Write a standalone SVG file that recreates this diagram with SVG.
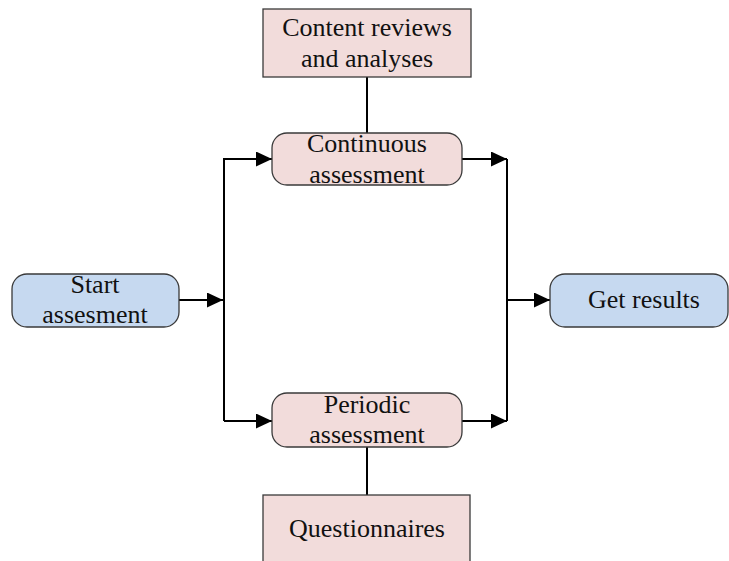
<svg xmlns="http://www.w3.org/2000/svg" width="729" height="561" viewBox="0 0 729 561">
<defs>
<style>
.pink{fill:#F2DCDB;stroke:#3a3a3a;stroke-width:1.3}
.blue{fill:#C6D9F0;stroke:#3a3a3a;stroke-width:1.3}
text{font-family:"Liberation Serif","Times New Roman",serif;font-size:26px;fill:#111;text-anchor:middle}
.conn path{fill:none;stroke:#000;stroke-width:2}
</style>
<marker id="arr" viewBox="0 0 16 15" refX="16" refY="7.5" markerWidth="16" markerHeight="15" markerUnits="userSpaceOnUse" orient="auto">
<path d="M0,0 L16,7.5 L0,15 Z" fill="#000"/>
</marker>
</defs>
<rect width="729" height="561" fill="#fff"/>
<g class="conn">
<path d="M179,300 H223" marker-end="url(#arr)"/>
<path d="M224,421 V159 H272" marker-end="url(#arr)"/>
<path d="M224,421 H272" marker-end="url(#arr)"/>
<path d="M462,159 H507" marker-end="url(#arr)"/>
<path d="M462,421 H507" marker-end="url(#arr)"/>
<path d="M507,159 V421"/>
<path d="M507,300 H550" marker-end="url(#arr)"/>
<path d="M367,77 V133"/>
<path d="M367,447 V495"/>
</g>
<g id="start">
<rect class="blue" x="12" y="274" width="167" height="53" rx="15"/>
<text x="95" y="293">Start</text>
<text x="95" y="323">assesment</text>
</g>
<g id="content">
<rect class="pink" x="263" y="9" width="208" height="68"/>
<text x="367" y="36">Content reviews</text>
<text x="367" y="67">and analyses</text>
</g>
<g id="continuous">
<rect class="pink" x="272" y="133" width="190" height="52" rx="15"/>
<text x="367" y="152">Continuous</text>
<text x="367" y="183">assessment</text>
</g>
<g id="periodic">
<rect class="pink" x="272" y="393" width="190" height="54" rx="15"/>
<text x="367" y="413">Periodic</text>
<text x="367" y="443">assessment</text>
</g>
<g id="questionnaires">
<rect class="pink" x="263" y="495" width="207" height="80"/>
<text x="367" y="537">Questionnaires</text>
</g>
<g id="results">
<rect class="blue" x="550" y="274" width="178" height="53" rx="15"/>
<text x="644" y="308">Get results</text>
</g>
</svg>
